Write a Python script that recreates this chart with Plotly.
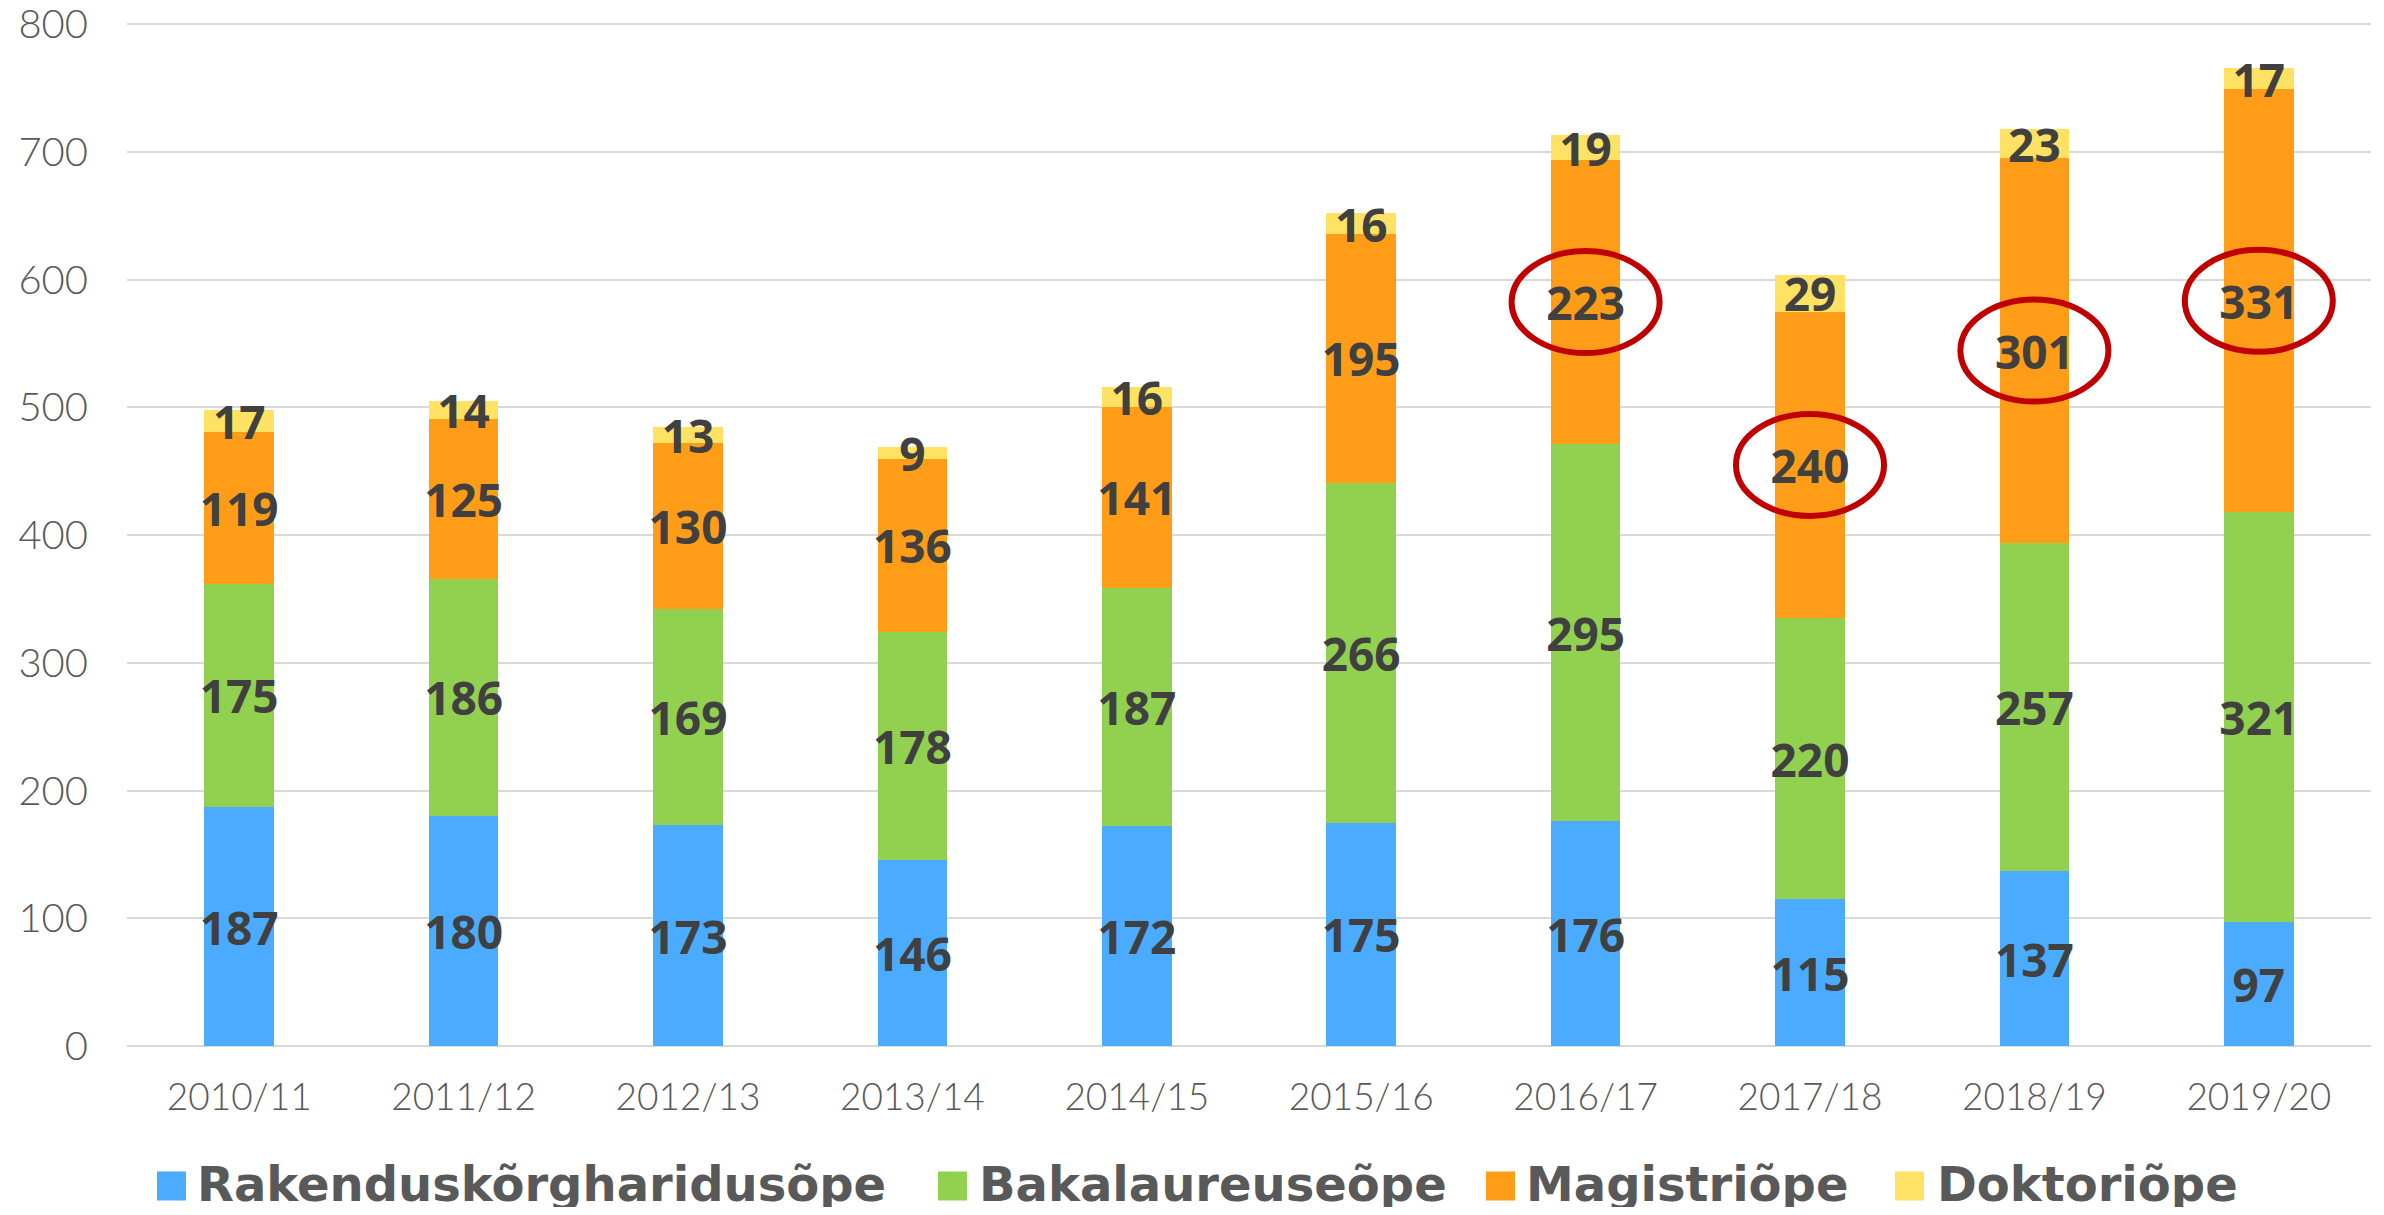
import plotly.graph_objects as go

# ---- data ----
years = ["2010/11", "2011/12", "2012/13", "2013/14", "2014/15",
         "2015/16", "2016/17", "2017/18", "2018/19", "2019/20"]
rakendus = [187, 180, 173, 146, 172, 175, 176, 115, 137, 97]
bakalaureus = [175, 186, 169, 178, 187, 266, 295, 220, 257, 321]
magistri = [119, 125, 130, 136, 141, 195, 223, 240, 301, 331]
doktori = [17, 14, 13, 9, 16, 16, 19, 29, 23, 17]
series_names = ["Rakenduskõrgharidusõpe", "Bakalaureuseõpe", "Magistriõpe", "Doktoriõpe"]
highlight_years = ["2016/17", "2017/18", "2018/19", "2019/20"]  # circled Magistriõpe values
y_ticks = [0, 100, 200, 300, 400, 500, 600, 700, 800]

# ---- style ----
colors = ["#4BABFF", "#92D050", "#FF9D18", "#FFE264"]
OFF = 8  # browser body margin
W, H = 2384 - 2 * OFF, 1215 - 2 * OFF
ML, MT = 127 - OFF, 23 - OFF
PLOT_R, PLOT_B = 2371 - OFF, 1046 - OFF
MR, MB = W - PLOT_R, H - PLOT_B
LABEL_FONT = dict(family="Open Sans", size=46, color="#404040", weight=700)
XTICK_FONT = dict(family="Lato", size=37, color="#595959", weight=300)
YTICK_FONT = dict(family="Lato", size=40, color="#595959", weight=300)

fig = go.Figure()
all_series = [rakendus, bakalaureus, magistri, doktori]
for name, vals, col in zip(series_names, all_series, colors):
    fig.add_trace(go.Bar(
        x=years, y=vals, name=name, marker=dict(color=col, line=dict(width=0)),
        text=[str(v) for v in vals], textposition="inside", insidetextanchor="middle",
        constraintext="none", textangle=0, textfont=LABEL_FONT,
        showlegend=False, cliponaxis=False,
    ))

# red ellipses around highlighted Magistriõpe labels
shapes = []
for yr in highlight_years:
    i = years.index(yr)
    mid = rakendus[i] + bakalaureus[i] + magistri[i] / 2
    shapes.append(dict(
        type="circle", xref="x", yref="y", xsizemode="pixel", ysizemode="pixel",
        xanchor=i, yanchor=mid, x0=-74, x1=74, y0=-51, y1=51,
        line=dict(color="#C00000", width=6), layer="above",
    ))

# manual legend (large square swatches)
plot_w = PLOT_R - ML
plot_h = PLOT_B - MT
def px_x(px):
    return (px - OFF - ML) / plot_w
def px_y(py):
    return (PLOT_B - (py - OFF)) / plot_h

sq_left = [157, 938, 1486, 1895]
txt_left = [196, 978, 1525, 1936]
leg_y = 1186
sq = 29
annotations = []
for name, col, sx, tx in zip(series_names, colors, sq_left, txt_left):
    shapes.append(dict(
        type="rect", xref="paper", yref="paper",
        x0=px_x(sx), x1=px_x(sx + sq), y0=px_y(leg_y + sq / 2), y1=px_y(leg_y - sq / 2),
        fillcolor=col, line=dict(width=0),
    ))
    annotations.append(dict(
        xref="paper", yref="paper", x=px_x(tx), y=px_y(leg_y - 2), xanchor="left", yanchor="middle",
        text=name, showarrow=False, borderpad=0,
        font=dict(family="DejaVu Sans", size=48, color="#595959", weight=700),
    ))

fig.update_layout(
    barmode="stack", bargap=0.69,
    width=W, height=H, margin=dict(l=ML, r=MR, t=MT, b=MB, autoexpand=False),
    plot_bgcolor="white", paper_bgcolor="white",
    shapes=shapes, annotations=annotations,
    showlegend=False,
    xaxis=dict(tickfont=XTICK_FONT, showgrid=False, showline=False, ticks="",
               ticklabelstandoff=26, fixedrange=True, automargin=False),
    yaxis=dict(range=[0, 801], tickvals=y_ticks, automargin=False,
               tickfont=YTICK_FONT, showgrid=True, ticklabeloverflow="allow",
               gridcolor="#D9D9D9", gridwidth=2, zeroline=True, zerolinecolor="#D9D9D9",
               zerolinewidth=2, showline=False, ticks="", ticklabelstandoff=38),
)

fig.write_html("out.html")
